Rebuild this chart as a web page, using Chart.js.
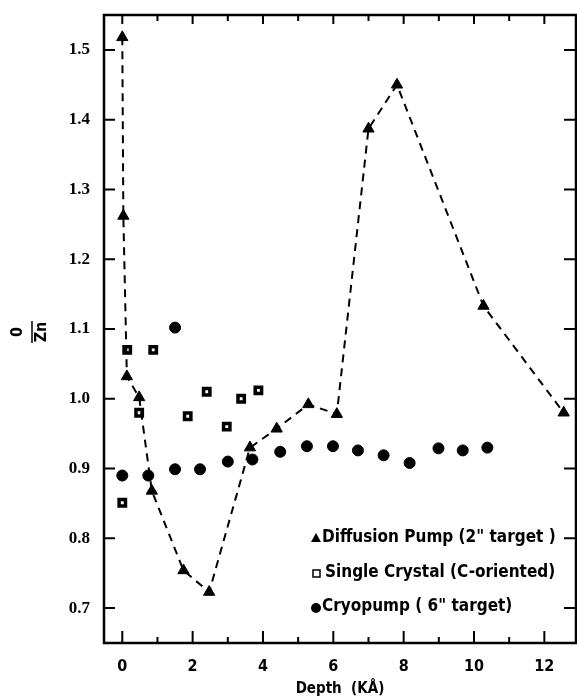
<!DOCTYPE html>
<html>
<head>
<meta charset="utf-8">
<script src="https://cdn.jsdelivr.net/npm/chart.js@4.4.1/dist/chart.umd.min.js"></script>
<style>
  html, body { margin: 0; padding: 0; background: #fff; overflow: hidden; }
  #wrap { width: 577px; height: 698px; }
  canvas { display: block; }
</style>
</head>
<body>
<div id="wrap"><canvas id="depthChart" width="577" height="698"></canvas></div>
<script>
// Diffusion pump (2" target) - triangles joined by dashed line
const diffDepth = [0, 0.03, 0.13, 0.48, 0.84, 1.74, 2.47, 3.63, 4.39, 5.29, 6.1, 7.0, 7.81, 10.27, 12.55];
const diffRatio = [1.518, 1.262, 1.032, 1.002, 0.868, 0.754, 0.723, 0.930, 0.957, 0.992, 0.978, 1.387, 1.450, 1.133, 0.980];

// Single crystal (C-oriented) - open squares
const crystalDepth = [0, 0.14, 0.48, 0.88, 1.86, 2.4, 2.97, 3.38, 3.87];
const crystalRatio = [0.851, 1.070, 0.980, 1.070, 0.975, 1.010, 0.960, 1.000, 1.012];

// Cryopump (6" target) - filled circles
const cryoDepth = [0, 0.74, 1.5, 1.5, 2.21, 3.0, 3.7, 4.49, 5.25, 5.99, 6.7, 7.43, 8.17, 8.99, 9.68, 10.38];
const cryoRatio = [0.890, 0.890, 1.102, 0.899, 0.899, 0.910, 0.913, 0.924, 0.932, 0.932, 0.926, 0.919, 0.908, 0.929, 0.926, 0.930];

const xTickValues = [0, 1, 2, 3, 4, 5, 6, 7, 8, 9, 10, 11, 12];
const yTickValues = [0.7, 0.8, 0.9, 1.0, 1.1, 1.2, 1.3, 1.4, 1.5];
const legendLabels = ['Diffusion Pump (2" target )', 'Single Crystal (C-oriented)', 'Cryopump ( 6" target)'];

const narrowFont = "'Liberation Sans Narrow', 'DejaVu Sans Condensed', sans-serif";
const serifFont = "'Liberation Serif', 'DejaVu Serif', serif";

function toPoints(xs, ys) {
    return xs.map((v, i) => ({ x: v, y: ys[i] }));
}

// box and inward tick marks on all four sides
const framePlugin = {
    id: 'frame',
    afterDraw(chart) {
        const { ctx, chartArea: a, scales: { x, y } } = chart;
        ctx.save();
        ctx.strokeStyle = '#000';
        ctx.lineWidth = 2.5;
        ctx.strokeRect(a.left, a.top, a.right - a.left, a.bottom - a.top);
        ctx.lineWidth = 2;
        xTickValues.forEach(v => {
            const px = x.getPixelForValue(v);
            const major = v % 2 === 0;
            ctx.beginPath();
            ctx.moveTo(px, a.bottom);
            ctx.lineTo(px, a.bottom - (major ? 12 : 6));
            ctx.moveTo(px, a.top);
            ctx.lineTo(px, a.top + (major ? 9 : 6));
            ctx.stroke();
        });
        yTickValues.forEach(v => {
            const py = y.getPixelForValue(v);
            ctx.beginPath();
            ctx.moveTo(a.left, py);
            ctx.lineTo(a.left + 11, py);
            ctx.moveTo(a.right, py);
            ctx.lineTo(a.right - 12, py);
            ctx.stroke();
        });
        ctx.restore();
    }
};

// rotated fraction "0 / Zn" as y axis title
const yTitlePlugin = {
    id: 'yTitle',
    afterDraw(chart) {
        const { ctx } = chart;
        ctx.save();
        ctx.translate(32, 332);
        ctx.rotate(-Math.PI / 2);
        ctx.fillStyle = '#000';
        ctx.strokeStyle = '#000';
        ctx.textAlign = 'center';
        ctx.textBaseline = 'middle';
        ctx.font = "bold 16px " + narrowFont;
        ctx.fillText('0', 0, -14);
        ctx.fillText('Zn', 0, 10);
        ctx.lineWidth = 1.5;
        ctx.beginPath();
        ctx.moveTo(-11, 0);
        ctx.lineTo(11, 0);
        ctx.stroke();
        ctx.restore();
    }
};

// legend inside the lower right of the plot
const legendPlugin = {
    id: 'innerLegend',
    afterDraw(chart) {
        const { ctx, chartArea: a } = chart;
        const left = a.left + 208;
        const rows = [a.bottom - 105, a.bottom - 70, a.bottom - 36];
        ctx.save();
        ctx.fillStyle = '#000';
        ctx.strokeStyle = '#000';
        ctx.font = "bold 17px " + narrowFont;
        ctx.textBaseline = 'middle';
        ctx.textAlign = 'left';

        // triangle
        ctx.beginPath();
        ctx.moveTo(left + 4, rows[0] - 5);
        ctx.lineTo(left + 9, rows[0] + 4);
        ctx.lineTo(left - 1, rows[0] + 4);
        ctx.closePath();
        ctx.fill();
        ctx.fillText(legendLabels[0], left + 10, rows[0]);

        // square
        ctx.lineWidth = 1.5;
        ctx.strokeRect(left + 1, rows[1] - 3, 7, 7);
        ctx.fillText(legendLabels[1], left + 13, rows[1]);

        // circle
        ctx.beginPath();
        ctx.arc(left + 4, rows[2] + 1, 5, 0, Math.PI * 2);
        ctx.fill();
        ctx.fillText(legendLabels[2], left + 10, rows[2]);
        ctx.restore();
    }
};

const ctx = document.getElementById('depthChart').getContext('2d');
const depthChart = new Chart(ctx, {
    type: 'scatter',
    data: {
        datasets: [
            {
                label: legendLabels[0],
                data: toPoints(diffDepth, diffRatio),
                showLine: true,
                borderColor: '#000',
                borderWidth: 2,
                borderDash: [8, 6],
                backgroundColor: '#000',
                pointStyle: 'triangle',
                pointRadius: 6.5,
                pointBorderWidth: 1
            },
            {
                label: legendLabels[1],
                data: toPoints(crystalDepth, crystalRatio),
                showLine: false,
                borderColor: '#000',
                backgroundColor: '#fff',
                pointStyle: 'rect',
                pointRadius: 4.5,
                pointBorderWidth: 3.5
            },
            {
                label: legendLabels[2],
                data: toPoints(cryoDepth, cryoRatio),
                showLine: false,
                borderColor: '#000',
                backgroundColor: '#000',
                pointStyle: 'circle',
                pointRadius: 5.5,
                pointBorderWidth: 1
            }
        ]
    },
    options: {
        responsive: false,
        animation: false,
        devicePixelRatio: 1,
        layout: { autoPadding: false, padding: { top: 15, right: 1, left: 0, bottom: 0 } },
        plugins: {
            legend: { display: false },
            tooltip: { enabled: false }
        },
        scales: {
            x: {
                type: 'linear',
                min: -0.52,
                max: 12.9,
                afterBuildTicks: scale => { scale.ticks = xTickValues.map(v => ({ value: v })); },
                afterFit: scale => {
                    scale.height = 55;
                    scale.paddingLeft = 0;
                    scale.paddingRight = 0;
                },
                grid: { display: false, drawTicks: false },
                border: { display: false },
                ticks: {
                    color: '#000',
                    padding: 14,
                    autoSkip: false,
                    maxRotation: 0,
                    font: { family: narrowFont, size: 16, weight: 'bold' },
                    callback: v => (v % 2 === 0 ? String(v) : '')
                },
                title: {
                    display: true,
                    text: 'Depth  (KÅ)',
                    color: '#000',
                    font: { family: narrowFont, size: 15, weight: 'bold' },
                    padding: { top: 0, bottom: 0 }
                }
            },
            y: {
                type: 'linear',
                min: 0.65,
                max: 1.55,
                afterBuildTicks: scale => { scale.ticks = yTickValues.map(v => ({ value: v })); },
                afterFit: scale => {
                    scale.width = 104;
                    scale.paddingTop = 0;
                    scale.paddingBottom = 0;
                },
                grid: { display: false, drawTicks: false },
                border: { display: false },
                ticks: {
                    color: '#000',
                    padding: 14,
                    autoSkip: false,
                    font: { family: serifFont, size: 17, weight: 'bold' },
                    callback: v => v.toFixed(1)
                }
            }
        }
    },
    plugins: [framePlugin, yTitlePlugin, legendPlugin]
});
</script>
</body>
</html>
